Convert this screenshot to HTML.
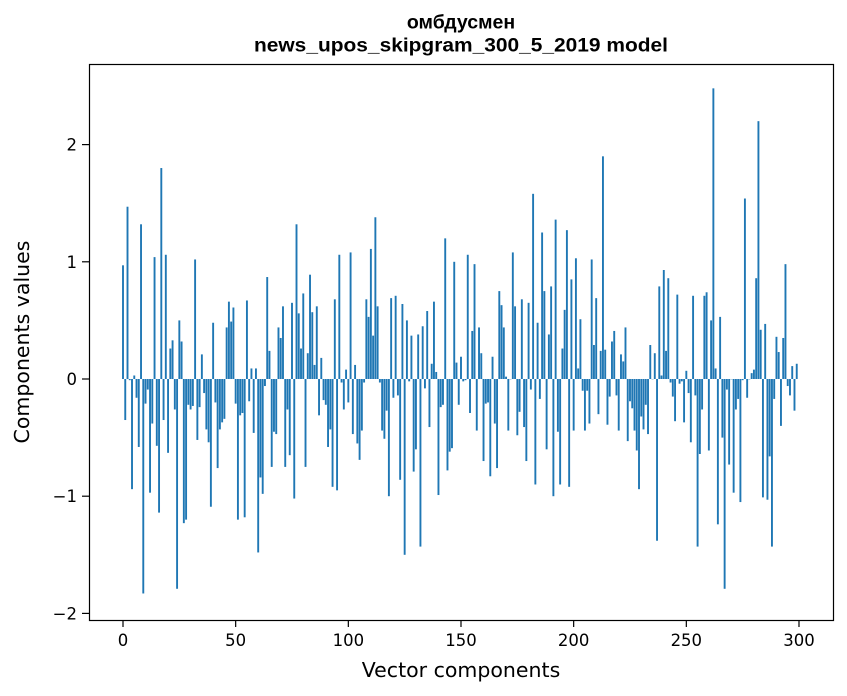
<!DOCTYPE html>
<html><head><meta charset="utf-8">
<style>
body{margin:0;background:#fff;}
svg{display:block;font-family:"DejaVu Sans","Liberation Sans",sans-serif;}
</style></head>
<body>
<svg id="chart" width="847" height="696" viewBox="0 0 847 696" xmlns="http://www.w3.org/2000/svg">
<rect width="847" height="696" fill="#fff"/>
<text x="461" y="28.5" text-anchor="middle" font-size="16" font-weight="bold" style="font-family:'Liberation Sans',sans-serif;font-size:19.5px">омбдусмен</text>
<text x="461" y="51.5" text-anchor="middle" font-size="16" font-weight="bold" style="font-family:'Liberation Sans',sans-serif;font-size:19.5px" textLength="414" lengthAdjust="spacingAndGlyphs">news_upos_skipgram_300_5_2019 model</text>
<g id="bars"></g>
<g id="axes"></g>
<rect x="89.5" y="64.5" width="744" height="556" fill="none" stroke="#000" stroke-width="1.2"/>
<text x="461" y="677" text-anchor="middle" font-size="20.5">Vector components</text>
<text transform="translate(29,342) rotate(-90)" text-anchor="middle" font-size="20.5">Components values</text>
</svg>
<script>
const values = [0.97,-0.35,1.47,-0.01,-0.94,0.03,-0.16,-0.58,1.32,-1.83,-0.21,-0.09,-0.97,-0.38,1.04,-0.57,-1.14,1.8,-0.35,1.06,-0.63,0.26,0.33,-0.26,-1.79,0.5,0.32,-1.23,-1.2,-0.22,-0.26,-0.23,1.02,-0.52,-0.24,0.21,-0.12,-0.43,-0.54,-1.09,0.48,-0.2,-0.76,-0.43,-0.37,-0.34,0.44,0.66,
0.49,0.61,-0.21,-1.2,-0.31,-0.29,-1.18,0.67,-0.19,0.09,-0.46,0.09,-1.48,-0.84,-0.98,-0.06,0.87,0.24,-0.75,-0.45,-0.47,0.44,0.35,0.62,-0.75,-0.26,-0.65,0.65,-1.02,1.32,0.56,0.26,0.73,-0.75,0.22,0.89,0.57,0.12,0.62,-0.31,0.18,-0.18,-0.22,-0.58,-0.43,-0.92,0.68,-0.95,1.06,-0.03,-0.26,
0.08,-0.2,1.08,-0.47,0.12,-0.55,-0.69,-0.44,-0.03,0.68,0.53,1.11,0.37,1.38,0.62,-0.03,-0.44,-0.51,-0.27,-1.0,0.69,-0.16,0.71,-0.14,-0.86,0.64,-1.5,0.5,-0.02,0.37,-0.79,-0.6,0.38,-1.43,0.45,-0.08,0.58,-0.41,0.13,0.66,0.06,-0.99,-0.24,-0.22,1.2,-0.78,-0.62,-0.59,
1.0,0.14,-0.22,0.19,-0.02,-0.01,1.06,-0.29,0.41,0.98,-0.44,0.44,0.22,-0.7,-0.21,-0.2,-0.83,0.19,-0.38,-0.76,0.75,0.63,0.44,0.02,-0.44,0,1.08,0.62,-0.48,-0.28,0.68,-0.41,-0.7,0.65,-0.09,1.58,-0.9,0.48,-0.17,1.25,0.75,-0.6,0.38,0.79,-1.0,1.36,-0.45,-0.9,0.26,0.59,1.27,
-0.92,0.85,-0.44,1.03,0.09,0.51,-0.1,-0.44,-0.1,-0.38,1.02,0.29,0.69,-0.3,0.24,1.9,0.25,-0.39,-0.15,0.32,0.41,-0.14,-0.44,0.21,0.15,0.44,-0.53,-0.19,-0.25,-0.44,-0.61,-0.94,-0.32,-0.43,-0.22,-0.47,0.29,0,0.22,-1.38,0.79,0.03,0.93,0.24,0.86,-0.03,-0.15,-0.36,
0.72,-0.04,-0.02,-0.37,0.07,-0.12,-0.54,0.71,-0.14,-1.43,-0.64,-0.26,0.71,0.74,-0.61,0.5,2.48,0.09,-1.24,0.53,-0.5,-1.79,-0.09,-0.73,0,-0.97,-0.26,-0.17,-1.05,-0.01,1.54,-0.16,0,0.05,0.08,0.86,2.2,0.42,-1.01,0.47,-1.03,-0.66,-1.43,-0.17,0.36,0.23,-0.4,0.35,0.98,-0.06,-0.14,0.11,-0.27,0.13];
const xTicks = [0,50,100,150,200,250,300];
const yTicks = [-2,-1,0,1,2];
const yTickLabels = ["\u22122","\u22121","0","1","2"];

const NS = "http://www.w3.org/2000/svg";
function xScale(i){ return 123 + i * 2.2533; }
function yScale(v){ return 379 - v * 117.2; }
const barsG = document.getElementById('bars');
values.forEach(function(v, i){
  const r = document.createElementNS(NS, 'rect');
  const y0 = yScale(0), y1 = yScale(v);
  r.setAttribute('x', xScale(i) - 0.95);
  r.setAttribute('y', Math.min(y0, y1));
  r.setAttribute('width', 1.9);
  r.setAttribute('height', Math.max(Math.abs(y1 - y0), 0.3));
  r.setAttribute('fill', '#1f77b4');
  
  
  barsG.appendChild(r);
});
const axesG = document.getElementById('axes');
xTicks.forEach(function(t){
  const x = xScale(t);
  const l = document.createElementNS(NS, 'line');
  l.setAttribute('x1', x); l.setAttribute('x2', x);
  l.setAttribute('y1', 620); l.setAttribute('y2', 627);
  l.setAttribute('stroke', '#000'); l.setAttribute('stroke-width', '1.2');
  
  
  axesG.appendChild(l);
  const tx = document.createElementNS(NS, 'text');
  tx.setAttribute('x', x); tx.setAttribute('y', 646);
  tx.setAttribute('text-anchor', 'middle'); tx.setAttribute('font-size', '16.5');
  tx.textContent = t;
  
  
  axesG.appendChild(tx);
});
yTicks.forEach(function(t, k){
  const y = yScale(t);
  const l = document.createElementNS(NS, 'line');
  l.setAttribute('x1', 82); l.setAttribute('x2', 89);
  l.setAttribute('y1', y); l.setAttribute('y2', y);
  l.setAttribute('stroke', '#000'); l.setAttribute('stroke-width', '1.2');
  
  
  axesG.appendChild(l);
  const tx = document.createElementNS(NS, 'text');
  tx.setAttribute('x', 77); tx.setAttribute('y', y + 6);
  tx.setAttribute('text-anchor', 'end'); tx.setAttribute('font-size', '16.5');
  tx.textContent = yTickLabels[k];
  
  
  axesG.appendChild(tx);
});
</script>
</body></html>
